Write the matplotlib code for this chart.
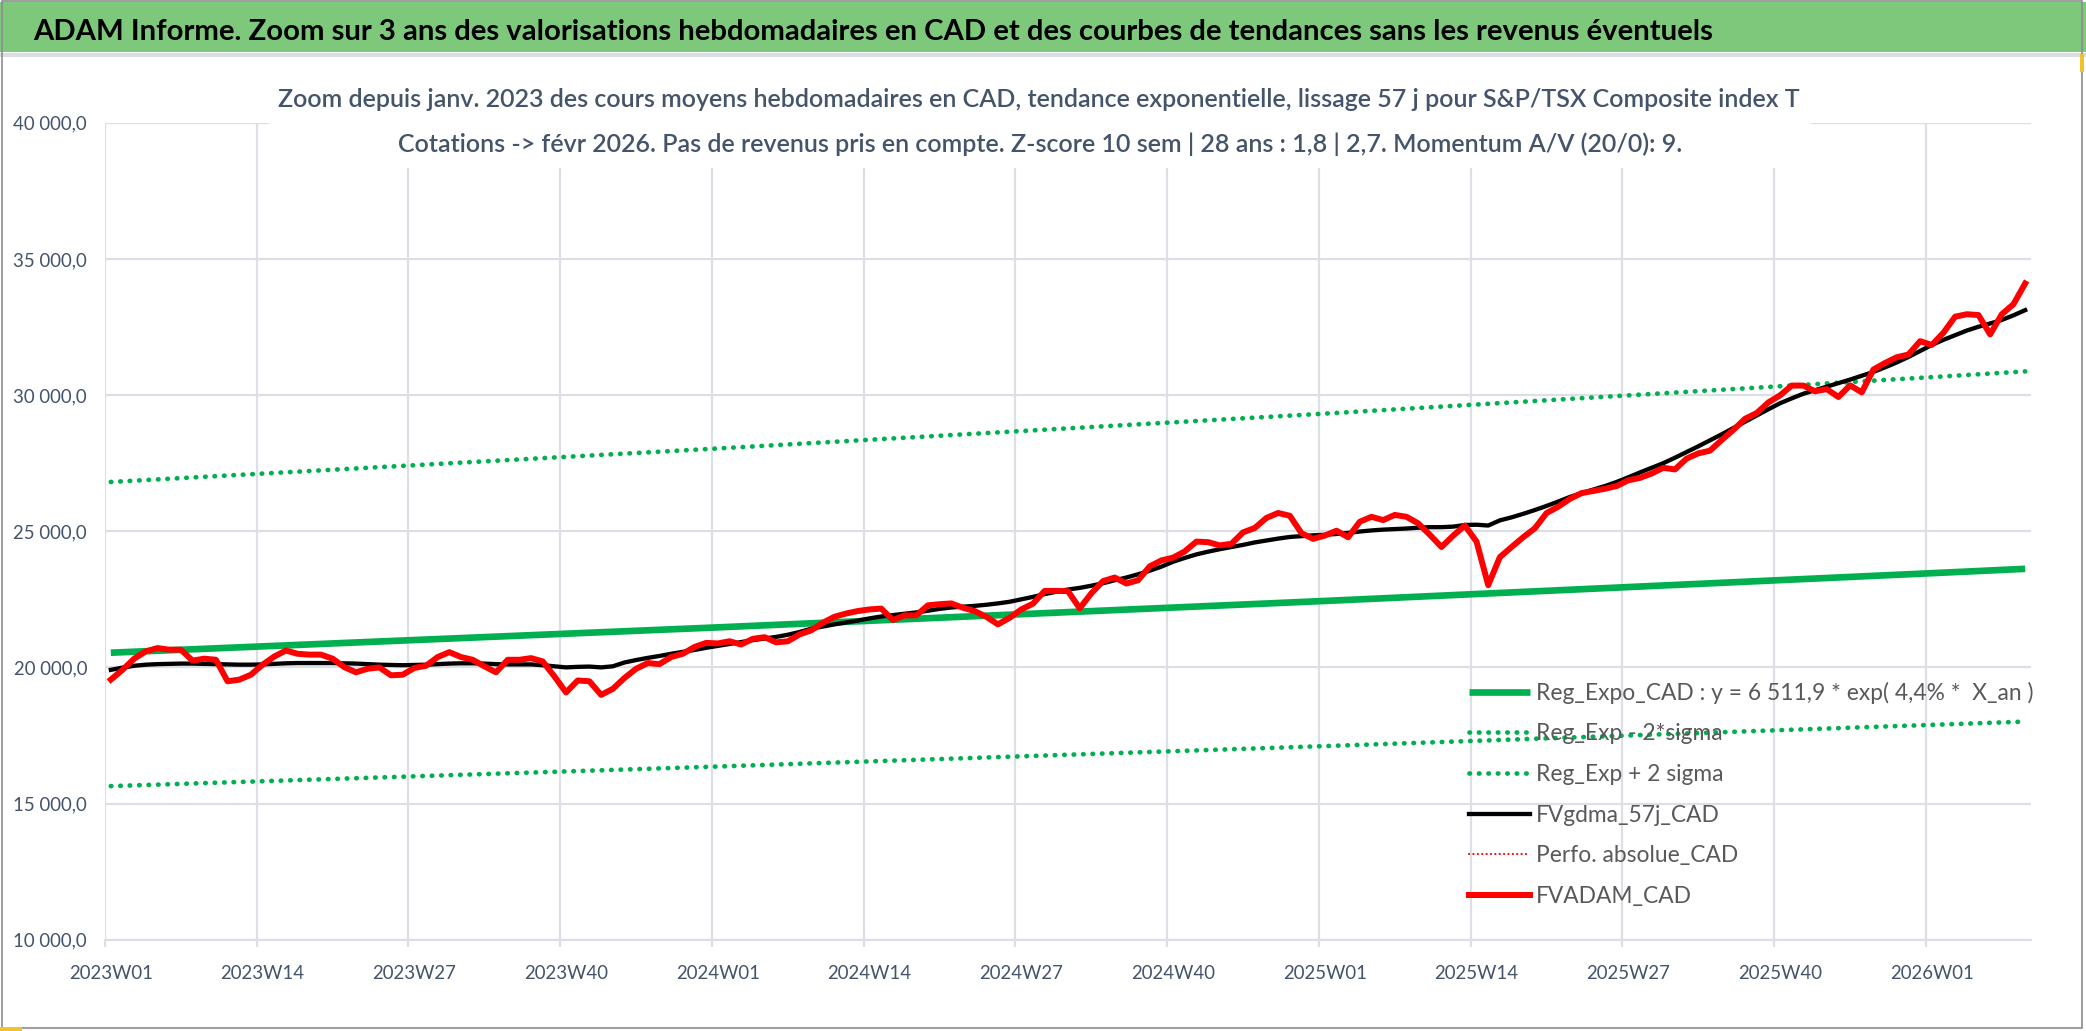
import numpy as np
import matplotlib
matplotlib.use('Agg')
import matplotlib.pyplot as plt
from matplotlib.patches import Rectangle

plt.rcParams['font.family'] = ['Lato', 'DejaVu Sans']

# weekly x labels (one label every 13 weeks)
tick_labels = ['2023W01', '2023W14', '2023W27', '2023W40', '2024W01', '2024W14', '2024W27',
               '2024W40', '2025W01', '2025W14', '2025W27', '2025W40', '2026W01']
tick_weeks = [0, 13, 26, 39, 52, 65, 78, 91, 104, 117, 130, 143, 156]
n_weeks = 165

# FVADAM_CAD (weekly average, red)
fvadam = [19550, 19910, 20320, 20590, 20710, 20650, 20650, 20250, 20320, 20280,
          19490, 19550, 19730, 20100, 20400, 20620, 20500, 20470, 20470, 20320,
          20010, 19820, 19950, 20000, 19710, 19730, 19980, 20060, 20380, 20560,
          20380, 20280, 20040, 19820, 20280, 20280, 20340, 20220, 19670, 19080,
          19520, 19490, 18990, 19210, 19610, 19950, 20160, 20120, 20380, 20500,
          20750, 20900, 20880, 20960, 20840, 21050, 21110, 20920, 20960, 21210,
          21360, 21640, 21860, 21980, 22070, 22130, 22160, 21740, 21910, 21910,
          22280, 22320, 22350, 22190, 22070, 21860, 21580, 21820, 22130, 22340,
          22810, 22810, 22800, 22170, 22720, 23170, 23300, 23080, 23200, 23710,
          23930, 24030, 24260, 24620, 24600, 24480, 24540, 24960, 25120, 25490,
          25670, 25570, 24930, 24720, 24840, 25020, 24780, 25350, 25530, 25410,
          25600, 25530, 25290, 24870, 24420, 24840, 25210, 24620, 23020, 24050,
          24420, 24780, 25110, 25670, 25900, 26190, 26400, 26480, 26560, 26660,
          26870, 26960, 27120, 27330, 27270, 27670, 27860, 27960, 28350, 28720,
          29130, 29340, 29730, 29990, 30350, 30350, 30140, 30220, 29930, 30360,
          30100, 30940, 31180, 31390, 31490, 31980, 31840, 32290, 32880, 32970,
          32940, 32230, 32970, 33340, 34100]

# FVgdma_57j_CAD (smoothed, black)
fvgdma = [19910, 19990, 20060, 20100, 20120, 20130, 20140, 20140, 20130, 20120,
          20110, 20100, 20100, 20110, 20130, 20150, 20160, 20160, 20160, 20160,
          20150, 20140, 20120, 20100, 20090, 20080, 20090, 20100, 20120, 20140,
          20150, 20150, 20140, 20120, 20110, 20110, 20110, 20080, 20040, 20000,
          20020, 20030, 20000, 20040, 20180, 20270, 20350, 20420, 20500, 20570,
          20640, 20720, 20790, 20860, 20930, 21000, 21060, 21120, 21200, 21300,
          21420, 21500, 21580, 21650, 21720, 21800, 21870, 21920, 21970, 22020,
          22080, 22150, 22200, 22230, 22260, 22300, 22350, 22410, 22500, 22590,
          22690, 22780, 22860, 22920, 23000, 23090, 23200, 23300, 23420, 23550,
          23700, 23880, 24020, 24150, 24250, 24340, 24420, 24500, 24590, 24660,
          24730, 24790, 24820, 24850, 24870, 24900, 24940, 24990, 25030, 25060,
          25080, 25100, 25130, 25150, 25150, 25170, 25230, 25240, 25210, 25400,
          25510, 25640, 25780, 25930, 26090, 26260, 26400, 26530, 26660, 26810,
          26980, 27160, 27330, 27500, 27700, 27910, 28120, 28340, 28560, 28790,
          29020, 29250, 29480, 29700, 29880, 30050, 30180, 30310, 30440, 30570,
          30710, 30850, 31020, 31200, 31400, 31620, 31840, 32030, 32200, 32370,
          32510, 32630, 32760, 32930, 33120]

# exponential trend and +/- 2 sigma bands, read at a few weeks
trend_weeks = [0, 52, 104, 156, 164]
reg_expo = [20540, 21470, 22440, 23460, 23620]
reg_minus = [15640, 16360, 17110, 17890, 18010]
reg_plus = [26810, 28040, 29320, 30660, 30870]

labels = ['Reg_Expo_CAD : y = 6 511,9 * exp( 4,4% *  X_an )', 'Reg_Exp - 2*sigma',
          'Reg_Exp + 2 sigma', 'FVgdma_57j_CAD', 'Perfo. absolue_CAD', 'FVADAM_CAD']

W, H = 2086, 1031
PT = 100 / 72  # pixels per point
fig = plt.figure(figsize=(W / 100, H / 100), dpi=100)
fig.patch.set_facecolor('white')
renderer = fig.canvas.get_renderer()


def size_for(text, target_w, **kw):
    # font size giving a text of target_w pixels wide
    t = fig.text(0, 0, text, fontsize=20, **kw)
    bb = t.get_window_extent(renderer)
    t.remove()
    return 20 * target_w / bb.width, bb.height * target_w / bb.width


# title banner
fig.patches.append(Rectangle((0, 1 - 52 / H), 1, 50 / H, transform=fig.transFigure,
                             facecolor='#7DC87B', edgecolor='none', zorder=1))
fig.patches.append(Rectangle((0, 1 - 57 / H), 1, 4 / H, transform=fig.transFigure,
                             facecolor='#DADDE2', edgecolor='none', zorder=1))
fig.patches.append(Rectangle((0.001, 0.003), 0.997, 0.996, transform=fig.transFigure,
                             facecolor='none', edgecolor='#8C8C8C', lw=1.2, zorder=5))
title = 'ADAM Informe. Zoom sur 3 ans des valorisations hebdomadaires en CAD et des courbes de tendances sans les revenus éventuels'
fs_title, _ = size_for(title, 1678, fontweight='bold')
fig.text(33 / W, 1 - 40 / H, title, fontsize=fs_title, fontweight='bold', color='black',
         va='baseline', ha='left', zorder=3)

ax = fig.add_axes([105 / W, 1 - 939.7 / H, (2031 - 105) / W, (939.7 - 122.8) / H])
x = np.arange(n_weeks) + 0.5
tx = np.array(trend_weeks) + 0.5

green = '#00B050'
dots = (0, (0.1, 1.9))
ax.plot(tx, reg_expo, color=green, lw=4.8, solid_capstyle='butt', zorder=3)
ax.plot(tx, reg_minus, color=green, lw=3.4, ls=dots, dash_capstyle='round', zorder=3)
ax.plot(tx, reg_plus, color=green, lw=3.4, ls=dots, dash_capstyle='round', zorder=3)
ax.plot(x, fvgdma, color='black', lw=3.1, zorder=4)
ax.plot([], [], color='#FF0000', lw=1.5, ls=(0, (0.1, 2.0)), dash_capstyle='round')
ax.plot(x, fvadam, color='#FF0000', lw=4.3, zorder=5)

ax.set_xlim(0, n_weeks)
ax.set_ylim(10000, 40000)
yt = np.arange(10000, 40001, 5000)
ax.set_yticks(yt)
ax.set_yticklabels([f'{v:,.1f}'.replace(',', ' ').replace('.', ',') for v in yt])
ax.set_xticks(tick_weeks)
ax.set_xticklabels([])
ax.set_xticks(np.array(tick_weeks) + 0.5, minor=True)
ax.set_xticklabels(tick_labels, minor=True)

fs_x, h_x = size_for('2023W01', 84)
fs_y, _ = size_for('10 000,0', 74)

grid_c = '#DCDFE5'
ax.grid(True, which='major', color=grid_c, lw=1.6)
ax.set_axisbelow(True)
for s in ['top', 'right', 'left']:
    ax.spines[s].set_visible(False)
ax.spines['bottom'].set_color(grid_c)
ax.spines['bottom'].set_linewidth(1.6)
ax.tick_params(axis='x', which='major', length=5, color=grid_c, width=1.6)
ax.tick_params(axis='x', which='minor', length=0, pad=(974 - h_x / 2 - 939.7) / PT,
               labelsize=fs_x, labelcolor='#44546A')
ax.tick_params(axis='y', length=0, pad=18 / PT, labelsize=fs_y, labelcolor='#44546A')

# subtitle with its white box over the gridlines
fig.patches.append(Rectangle((269 / W, 1 - 168 / H), (1811 - 269) / W, 95 / H,
                             transform=fig.transFigure, facecolor='white', edgecolor='none', zorder=2))
sub_c = '#44546A'
sub1 = 'Zoom depuis janv. 2023 des cours moyens hebdomadaires en CAD, tendance exponentielle, lissage 57 j pour S&P/TSX Composite index T'
sub2 = 'Cotations -> févr 2026. Pas de revenus pris en compte. Z-score 10 sem | 28 ans : 1,8 | 2,7. Momentum A/V (20/0): 9.'
fs_sub, _ = size_for(sub1, 1525, fontweight='semibold')
fig.text(1039 / W, 1 - 107 / H, sub1, fontsize=fs_sub, fontweight='semibold', color=sub_c,
         ha='center', va='baseline', zorder=3)
fig.text(1040 / W, 1 - 152 / H, sub2, fontsize=fs_sub, fontweight='semibold', color=sub_c,
         ha='center', va='baseline', zorder=3)

# legend, no frame, lower right inside the plot
fs_leg, h_leg = size_for(labels[0], 495)
fs_leg_px = fs_leg * PT
handles = ax.get_lines()
leg = fig.legend(handles, labels, loc='upper left', bbox_to_anchor=(1469 / W, 1 - (693 - h_leg / 2) / H),
                 bbox_transform=fig.transFigure, frameon=False, fontsize=fs_leg,
                 handlelength=61 / fs_leg_px, handletextpad=6 / fs_leg_px,
                 labelspacing=(42.2 - h_leg) / fs_leg_px, borderpad=0, borderaxespad=0)
for t in leg.get_texts():
    t.set_color('#595959')
leg.set_zorder(6)

# little selection marks of the source
fig.patches.append(Rectangle((0, 0), 22 / W, 4 / H, transform=fig.transFigure,
                             facecolor='#F2C12E', edgecolor='none', zorder=6))
fig.patches.append(Rectangle((1 - 6 / W, 1 - 72 / H), 4 / W, 18 / H, transform=fig.transFigure,
                             facecolor='#F2C12E', edgecolor='none', zorder=6))

fig.savefig('out.png', dpi=100)
